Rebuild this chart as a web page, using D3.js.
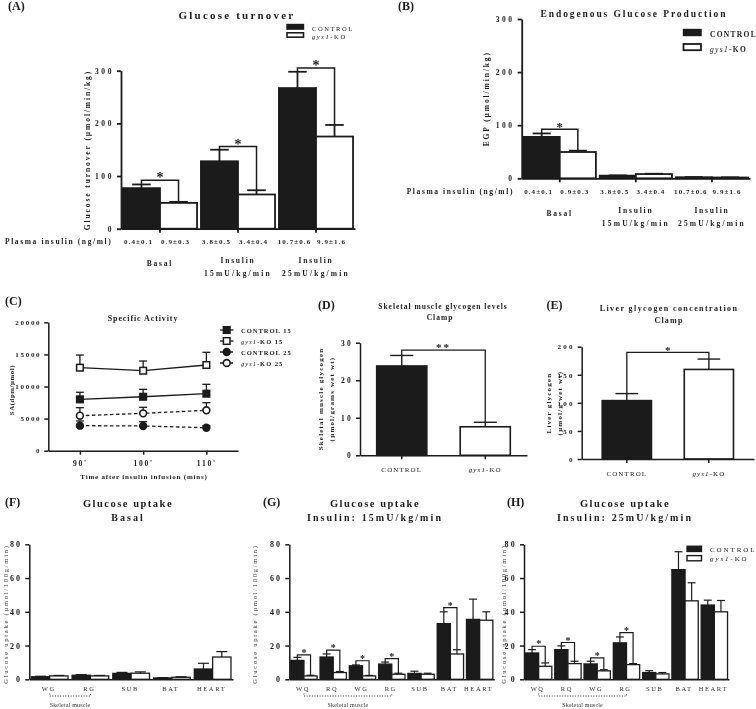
<!DOCTYPE html>
<html><head><meta charset="utf-8">
<script src="https://cdn.jsdelivr.net/npm/d3@7"></script>
<style>body{margin:0;background:#fff}svg{display:block;filter:grayscale(100%)}</style>
</head><body>
<svg id="chart" width="756" height="709"></svg>
<script>
// ================= DATA =================
// (A) Glucose turnover
const groupsA = ["Basal", "Insulin 15", "Insulin 25"];
const groupLabelsA = [["Basal"], ["Insulin", "15mU/kg/min"], ["Insulin", "25mU/kg/min"]];
const insulinControl = ["0.4±0.1", "3.8±0.5", "10.7±0.6"];
const insulinKO = ["0.9±0.3", "3.4±0.4", "9.9±1.6"];
const turnoverControl = [77, 128, 267];
const turnoverControlSem = [7, 22, 31];
const turnoverKO = [49, 65, 175];
const turnoverKOSem = [2, 8, 22];
const turnoverSig = [[0, 92], [1, 156], [2, 305]];
const ticksA = [0, 100, 200, 300];

// (B) Endogenous glucose production
const egpControl = [78, 5, 2];
const egpControlSem = [6.5, 0.5, 0.3];
const egpKO = [49.5, 8, 1.5];
const egpKOSem = [2.5, 0.6, 0.3];
const egpSig = [[0, 92.5]];
const ticksB = [0, 100, 200, 300];

// (C) Specific activity
const timesC = ["90'", "100'", "110'"];
const saControl15 = [8000, 8400, 8880];
const saControl15Sem = [1100, 1160, 1460];
const saKO15 = [12930, 12460, 13350];
const saKO15Sem = [1970, 1510, 1980];
const saControl25 = [3900, 3850, 3580];
const saControl25Sem = [730, 670, 300];
const saKO25 = [5450, 5820, 6290];
const saKO25Sem = [1250, 940, 1190];
const legendC = ["CONTROL 15", "gys1-KO 15", "CONTROL 25", "gys1-KO 25"];
const ticksC = [0, 5000, 10000, 15000, 20000];

// (D) Skeletal muscle glycogen, (E) Liver glycogen
const genotypes = ["CONTROL", "gys1-KO"];
const muscleGlycogen = [23.8, 7.6];
const muscleGlycogenSem = [2.8, 1.2];
const muscleSig = 28;
const ticksD = [0, 10, 20, 30];
const liverGlycogen = [104, 159.5];
const liverGlycogenSem = [12.5, 18.5];
const liverSig = 190;
const ticksE = [0, 50, 100, 150, 200];

// (F) Glucose uptake basal
const tissuesF = ["WG", "RG", "SUB", "BAT", "HEART"];
const uptakeBasalControl = [1.5, 2.4, 3.5, 0.8, 6.1];
const uptakeBasalControlSem = [0.3, 0.4, 0.6, 0.2, 3.4];
const uptakeBasalKO = [2.0, 2.0, 3.6, 1.2, 13.2];
const uptakeBasalKOSem = [0.3, 0.3, 0.8, 0.3, 3.2];

// (G) Glucose uptake insulin 15, (H) insulin 25
const tissuesGH = ["WQ", "RQ", "WG", "RG", "SUB", "BAT", "HEART"];
const uptake15Control = [11.2, 13.2, 8.0, 9.0, 3.5, 33, 35.5];
const uptake15ControlSem = [1.8, 1.8, 0.5, 1.2, 1.3, 7, 12];
const uptake15KO = [2.0, 4.0, 2.0, 3.0, 3.0, 15, 35];
const uptake15KOSem = [0.4, 0.6, 0.3, 0.6, 0.6, 2.5, 5];
const uptake15Sig = [[0, 14.5], [1, 17.3], [2, 11], [3, 12.3], [5, 42.5]];
const uptake25Control = [15.6, 17.6, 9.1, 21.6, 4.0, 65, 44];
const uptake25ControlSem = [2.0, 2.2, 1.6, 3.5, 1.1, 10.6, 2.9];
const uptake25KO = [7.7, 9.3, 5.0, 8.7, 3.2, 46.5, 40];
const uptake25KOSem = [2.0, 1.4, 0.7, 0.6, 0.8, 10.7, 6.7];
const uptake25Sig = [[0, 19.6], [1, 21.8], [2, 12.7], [3, 27.7]];
const ticksUptake = [0, 20, 40, 60, 80];

// ================= DRAWING =================
const svg = d3.select("#chart");
const INK = "#1b1b1b";
const SERIF = "'Liberation Serif', 'DejaVu Serif', serif";

function setLabel(t, s) {
  if (s.startsWith("gys1")) {
    t.append("tspan").attr("font-style", "italic").attr("font-weight", "normal").text("gys1");
    t.append("tspan").text(s.slice(4));
  } else t.text(s);
}
function label(x, y, s, o = {}) {
  const t = svg.append("text")
    .attr("x", x).attr("y", y)
    .attr("font-family", SERIF)
    .attr("font-size", o.size || 8)
    .attr("font-weight", o.weight || "bold")
    .attr("letter-spacing", o.ls ?? 1)
    .attr("text-anchor", o.anchor || "middle")
    .attr("fill", o.fill || INK);
  setLabel(t, s);
  return t;
}
function vlabel(cx, cy, s, o = {}) {
  const size = o.size || 8;
  const x = cx + size * 0.35;
  const t = label(x, cy, s, o);
  t.attr("transform", `rotate(-90 ${x} ${cy})`);
  return t;
}
function yAxis(y, x, ticks, o = {}) {
  const g = svg.append("g").attr("transform", `translate(${x},0)`)
    .call(d3.axisLeft(y).tickValues(ticks).tickSize(o.tick || 4).tickSizeOuter(0).tickPadding(o.pad || 3)
      .tickFormat(d3.format("d")));
  g.attr("font-family", SERIF).attr("font-size", o.size || 7.5).attr("font-weight", "bold");
  g.select(".domain").attr("stroke", INK).attr("stroke-width", o.sw || 1.6);
  g.selectAll(".tick line").attr("stroke", INK).attr("stroke-width", o.sw || 1.6);
  g.selectAll(".tick text").attr("fill", INK).attr("letter-spacing", o.ls ?? 2.5);
  return g;
}
function xAxis(x, y0, o = {}) {
  const g = svg.append("g").attr("transform", `translate(0,${y0})`)
    .call(d3.axisBottom(x).tickSize(o.tick ?? 4).tickSizeOuter(0).tickPadding(o.pad || 3)
      .tickFormat(o.fmt || (() => "")));
  g.attr("font-family", SERIF).attr("font-size", o.size || 7.5).attr("font-weight", "bold");
  g.select(".domain").attr("stroke", INK).attr("stroke-width", o.sw || 1.6);
  g.selectAll(".tick line").attr("stroke", INK).attr("stroke-width", o.sw || 1.6);
  g.selectAll(".tick text").attr("fill", INK).attr("letter-spacing", o.ls ?? 1.5);
  return g;
}
function bracket(xl, xr, yTop, yl, yr, star, o) {
  svg.append("path")
    .attr("d", `M${xl},${yl}V${yTop}H${xr}V${yr}`)
    .attr("fill", "none").attr("stroke", INK).attr("stroke-width", o.sw || 1.4);
  label((xl + xr) / 2, yTop - (o.gap || 4.5) + 0.5 * o.size, star, { size: o.size, ls: o.ls || 0 });
}
function errorBars(rows, cx, y, cap, sw) {
  const g = svg.append("g").attr("stroke", INK).attr("stroke-width", sw);
  g.selectAll("line.ev").data(rows).join("line").attr("class", "ev")
    .attr("x1", cx).attr("x2", cx).attr("y1", d => y(d.v)).attr("y2", d => y(d.v + d.s));
  g.selectAll("line.ec").data(rows).join("line").attr("class", "ec")
    .attr("x1", d => cx(d) - cap / 2).attr("x2", d => cx(d) + cap / 2)
    .attr("y1", d => y(d.v + d.s)).attr("y2", d => y(d.v + d.s));
}
function groupedBars(p) {
  const sub = d3.scaleBand().domain(genotypes).range([0, p.x.bandwidth()]);
  const rows = [];
  p.groups.forEach((gname, i) => {
    rows.push({ g: gname, i, k: genotypes[0], v: p.ctl[i], s: p.ctlSem[i] });
    rows.push({ g: gname, i, k: genotypes[1], v: p.ko[i], s: p.koSem[i] });
  });
  const cx = d => p.x(d.g) + sub(d.k) + sub.bandwidth() / 2;
  svg.append("g").selectAll("rect").data(rows).join("rect")
    .attr("x", d => p.x(d.g) + sub(d.k))
    .attr("y", d => p.y(d.v))
    .attr("width", sub.bandwidth())
    .attr("height", d => p.y(0) - p.y(d.v))
    .attr("fill", d => d.k === genotypes[0] ? INK : "#fff")
    .attr("stroke", INK).attr("stroke-width", p.sw);
  errorBars(rows, cx, p.y, sub.bandwidth() * p.capFrac, p.esw || p.sw);
  (p.sig || []).forEach(([i, h]) => {
    const a = rows[2 * i], b = rows[2 * i + 1];
    bracket(cx(a), cx(b), p.y(h), p.y(a.v + a.s), p.y(b.v + b.s), "*", p.star);
  });
  return { rows, cx };
}
function groupTexts(x, rowsRes, rowY, labY) {
  rowsRes.rows.forEach(d => {
    label(rowsRes.cx(d) - 3, rowY, (d.k === genotypes[0] ? insulinControl : insulinKO)[d.i], { size: 7, ls: 1.1 });
  });
  groupsA.forEach((gname, i) => {
    const c = x(gname) + x.bandwidth() / 2;
    const lines = groupLabelsA[i];
    if (lines.length === 1) label(c, labY + 3.5, lines[0], { size: 7.5, ls: 1.8 });
    else {
      label(c, labY, lines[0], { size: 7.5, ls: 1.8 });
      label(c, labY + 13.5, lines[1], { size: 7.5, ls: 2.2 });
    }
  });
}

// ---------- (A) ----------
label(8, 9.5, "(A)", { size: 12, anchor: "start", ls: 0 });
label(237, 18.5, "Glucose turnover", { size: 11, ls: 2.2 });
const yA = d3.scaleLinear().domain([0, 300]).range([228.7, 70.7]);
const xA = d3.scaleBand().domain(groupsA).range([121, 355]).paddingInner(0.05).paddingOuter(0.025);
const resA = groupedBars({ x: xA, y: yA, groups: groupsA, ctl: turnoverControl, ctlSem: turnoverControlSem,
  ko: turnoverKO, koSem: turnoverKOSem, sig: turnoverSig, sw: 1.8, capFrac: 0.5,
  star: { size: 14, gap: 5, sw: 1.5 } });
yAxis(yA, 121, ticksA, { sw: 1.8, size: 7.5, ls: 2.6 });
xAxis(xA, 228.7, { sw: 1.8 });
vlabel(87, 150, "Glucose turnover (µmol/min/kg)", { size: 7.5, ls: 1.9 });
label(5, 243.5, "Plasma insulin (ng/ml)", { size: 7.5, ls: 1.6, anchor: "start" });
groupTexts(xA, resA, 243.5, 262.5);
// legend A
svg.append("rect").attr("x", 287).attr("y", 24.5).attr("width", 16.5).attr("height", 4.6).attr("fill", INK).attr("stroke", INK).attr("stroke-width", 1.4);
svg.append("rect").attr("x", 287).attr("y", 32.8).attr("width", 16.5).attr("height", 4.4).attr("fill", "#fff").attr("stroke", INK).attr("stroke-width", 1.6);
label(312, 30.5, genotypes[0], { size: 6.5, weight: "normal", ls: 1.6, anchor: "start" });
label(312, 39.3, genotypes[1], { size: 6.5, weight: "normal", ls: 1.6, anchor: "start" });

// ---------- (B) ----------
label(398, 9.5, "(B)", { size: 12, anchor: "start", ls: 0 });
label(634, 16.5, "Endogenous Glucose Production", { size: 9.5, ls: 1.9 });
const yB = d3.scaleLinear().domain([0, 300]).range([178.3, 19]);
const xB = d3.scaleBand().domain(groupsA).range([521.7, 750]).paddingInner(0.05).paddingOuter(0.025);
const resB = groupedBars({ x: xB, y: yB, groups: groupsA, ctl: egpControl, ctlSem: egpControlSem,
  ko: egpKO, koSem: egpKOSem, sig: egpSig, sw: 1.8, capFrac: 0.5,
  star: { size: 13, gap: 5, sw: 1.5 } });
yAxis(yB, 521.7, ticksB, { sw: 1.8, size: 7.5, ls: 2.6 });
xAxis(xB, 178.3, { sw: 1.8 });
vlabel(486.7, 98.7, "EGP (µmol/min/kg)", { size: 7.5, ls: 1.9 });
label(406.7, 193.5, "Plasma insulin (ng/ml)", { size: 7.5, ls: 1.6, anchor: "start" });
groupTexts(xB, resB, 193.5, 212.5);
svg.append("rect").attr("x", 683.5).attr("y", 29.5).attr("width", 17.5).attr("height", 6).attr("fill", INK).attr("stroke", INK).attr("stroke-width", 1.4);
svg.append("rect").attr("x", 683.5).attr("y", 44).attr("width", 17.5).attr("height", 6.2).attr("fill", "#fff").attr("stroke", INK).attr("stroke-width", 1.8);
label(710, 37, genotypes[0], { size: 7.5, ls: 1.3, anchor: "start" });
label(710, 51.5, genotypes[1], { size: 7.5, ls: 1.3, anchor: "start" });

// ---------- (C) ----------
label(5, 305, "(C)", { size: 12, anchor: "start", ls: 0 });
label(143, 320.5, "Specific Activity", { size: 8, ls: 0.9 });
const yC = d3.scaleLinear().domain([0, 20000]).range([450.7, 322.3]);
const xC = d3.scalePoint().domain(timesC).range([48.3, 238]).padding(0.5);
const seriesC = [
  { name: legendC[0], v: saControl15, s: saControl15Sem, shape: "square", fill: INK, dash: null },
  { name: legendC[1], v: saKO15, s: saKO15Sem, shape: "square", fill: "#fff", dash: null },
  { name: legendC[2], v: saControl25, s: saControl25Sem, shape: "circle", fill: INK, dash: "3.5,2.5" },
  { name: legendC[3], v: saKO25, s: saKO25Sem, shape: "circle", fill: "#fff", dash: "3.5,2.5" }
];
yAxis(yC, 48.3, ticksC, { sw: 1.5, size: 7, ls: 1.7 });
xAxis(xC, 450.7, { sw: 1.5, tick: 4, pad: 6, size: 7.5, ls: 1.8, fmt: d => d });
vlabel(11.5, 390, "SA(dpm/µmol)", { size: 6.8, ls: 0.6 });
label(144, 478.5, "Time after insulin infusion (mins)", { size: 7, ls: 0.8 });
const lineC = d3.line().x((d, i) => xC(timesC[i])).y(d => yC(d));
function marker(g, x, y, shape, fill) {
  if (shape === "square") g.append("rect").attr("x", x - 3.3).attr("y", y - 3.3).attr("width", 6.6).attr("height", 6.6)
    .attr("fill", fill).attr("stroke", INK).attr("stroke-width", 1.5);
  else g.append("circle").attr("cx", x).attr("cy", y).attr("r", 3.4).attr("fill", fill).attr("stroke", INK).attr("stroke-width", 1.6);
}
seriesC.forEach(sr => {
  svg.append("path").attr("d", lineC(sr.v)).attr("fill", "none").attr("stroke", INK)
    .attr("stroke-width", 1.3).attr("stroke-dasharray", sr.dash);
  const rows = sr.v.map((v, i) => ({ t: timesC[i], v, s: sr.s[i] }));
  errorBars(rows, d => xC(d.t), yC, 8, 1.3);
  const g = svg.append("g");
  rows.forEach(d => marker(g, xC(d.t), yC(d.v), sr.shape, sr.fill));
});
const legRowsC = [330, 341, 352, 363];
seriesC.forEach((sr, i) => {
  const y = legRowsC[i];
  svg.append("line").attr("x1", 220).attr("x2", 233.5).attr("y1", y).attr("y2", y)
    .attr("stroke", INK).attr("stroke-width", 1.3).attr("stroke-dasharray", sr.dash ? "3,2" : null);
  marker(svg, 226.7, y, sr.shape, sr.fill);
  label(241, y + 2.5, sr.name, { size: 6.5, ls: 1, anchor: "start" });
});

// ---------- (D) & (E) ----------
function twoBar(p) {
  const rows = genotypes.map((k, i) => ({ k, v: p.v[i], s: p.s[i] }));
  const cx = d => p.x(d.k) + p.x.bandwidth() / 2;
  svg.append("g").selectAll("rect").data(rows).join("rect")
    .attr("x", d => p.x(d.k)).attr("y", d => p.y(d.v))
    .attr("width", p.x.bandwidth()).attr("height", d => p.y(0) - p.y(d.v))
    .attr("fill", d => d.k === genotypes[0] ? INK : "#fff")
    .attr("stroke", INK).attr("stroke-width", 1.6);
  errorBars(rows, cx, p.y, p.x.bandwidth() * 0.46, 1.4);
  bracket(cx(rows[0]), cx(rows[1]), p.y(p.sig), p.y(rows[0].v + rows[0].s), p.y(rows[1].v + rows[1].s), p.star, p.starO);
  rows.forEach(d => label(cx(d), p.labY, d.k, { size: 7, weight: "normal", ls: 1.1 }));
}
label(318, 309, "(D)", { size: 12, anchor: "start", ls: 0 });
label(443, 308.5, "Skeletal muscle glycogen levels", { size: 7.5, ls: 1.0 });
label(440, 320, "Clamp", { size: 7.5, ls: 1.0 });
const yD = d3.scaleLinear().domain([0, 30]).range([455.3, 342.7]);
const xD = d3.scaleBand().domain(genotypes).range([360, 527]).paddingInner(0.4).paddingOuter(0.2);
twoBar({ x: xD, y: yD, v: muscleGlycogen, s: muscleGlycogenSem, sig: muscleSig, star: "**",
  starO: { size: 11, gap: 4.5, ls: 2, sw: 1.3 }, labY: 472 });
yAxis(yD, 360, ticksD, { sw: 1.5, size: 7.5, ls: 2.2 });
xAxis(xD, 455.3, { sw: 1.5 });
vlabel(321, 399, "Skeletal muscle glycogen", { size: 7, ls: 1.2 });
vlabel(331.5, 399, "(µmol/grams wet wt)", { size: 7, ls: 1.2 });

label(546.5, 308.5, "(E)", { size: 12, anchor: "start", ls: 0 });
label(669, 311, "Liver glycogen concentration", { size: 8, ls: 1.4 });
label(669, 322.5, "Clamp", { size: 8, ls: 1.2 });
const yE = d3.scaleLinear().domain([0, 200]).range([459, 346.7]);
const xE = d3.scaleBand().domain(genotypes).range([581.7, 754]).paddingInner(0.4).paddingOuter(0.25);
twoBar({ x: xE, y: yE, v: liverGlycogen, s: liverGlycogenSem, sig: liverSig, star: "*",
  starO: { size: 11, gap: 3.5, sw: 1.3 }, labY: 476 });
yAxis(yE, 581.7, ticksE, { sw: 1.5, size: 7, ls: 2.2 });
xAxis(xE, 459, { sw: 1.5 });
vlabel(548.3, 403, "Liver glycogen", { size: 7, ls: 1.2 });
vlabel(560, 403, "(µmol/g wet wt)", { size: 7, ls: 1.2 });

// ---------- (F), (G), (H) ----------
const yU = d3.scaleLinear().domain([0, 80]).range([679.3, 544.3]);
function uptakePanel(p) {
  label(p.lx, 505.5, p.tag, { size: 12, anchor: "start", ls: 0 });
  label(p.tx, 506.5, "Glucose uptake", { size: 10.5, ls: 1.5 });
  label(p.tx, 520.5, p.sub, { size: 10, ls: p.subLs });
  const x = d3.scaleBand().domain(p.tissues).range([p.ax, p.ax + p.len]).paddingInner(0.1).paddingOuter(0.05);
  groupedBars({ x, y: yU, groups: p.tissues, ctl: p.ctl, ctlSem: p.ctlSem, ko: p.ko, koSem: p.koSem,
    sig: p.sig, sw: 1.3, esw: 1.2, capFrac: 0.6, star: { size: 10, gap: 4, sw: 1.2 } });
  yAxis(yU, p.ax, ticksUptake, { sw: 1.5, size: 8, ls: 2.2 });
  xAxis(x, 679.3, { sw: 1.5, tick: 0 });
  vlabel(p.ylx, 614, "Glucose uptake (µmol/100g/min)", { size: 6.5, weight: "normal", ls: 1.75, fill: "#333" });
  p.tissues.forEach(t => label(x(t) + x.bandwidth() / 2 - 1, 690.5, t, { size: 6.5, weight: "normal", ls: 1.6, fill: "#333" }));
  const m0 = x(p.muscle[0]) + x.bandwidth() / 2, m1 = x(p.muscle[1]) + x.bandwidth() / 2;
  svg.append("path").attr("d", `M${m0},693.5V696H${m1}V693.5`).attr("fill", "none")
    .attr("stroke", "#333").attr("stroke-width", 1).attr("stroke-dasharray", "1,1.6");
  label((m0 + m1) / 2, 707, "Skeletal muscle", { size: 6, weight: "normal", ls: 0.2, fill: "#333" });
}
uptakePanel({ tag: "(F)", lx: 5, tx: 128, sub: "Basal", subLs: 2, ax: 29.3, len: 203.7, ylx: 5.5,
  tissues: tissuesF, ctl: uptakeBasalControl, ctlSem: uptakeBasalControlSem, ko: uptakeBasalKO, koSem: uptakeBasalKOSem,
  sig: [], muscle: ["WG", "RG"] });
uptakePanel({ tag: "(G)", lx: 263, tx: 375, sub: "Insulin: 15mU/kg/min", subLs: 2.1, ax: 289.3, len: 205, ylx: 255,
  tissues: tissuesGH, ctl: uptake15Control, ctlSem: uptake15ControlSem, ko: uptake15KO, koSem: uptake15KOSem,
  sig: uptake15Sig, muscle: ["WQ", "RG"] });
uptakePanel({ tag: "(H)", lx: 507, tx: 625, sub: "Insulin: 25mU/kg/min", subLs: 2.1, ax: 524, len: 205, ylx: 503.5,
  tissues: tissuesGH, ctl: uptake25Control, ctlSem: uptake25ControlSem, ko: uptake25KO, koSem: uptake25KOSem,
  sig: uptake25Sig, muscle: ["WQ", "RG"] });
svg.append("rect").attr("x", 687).attr("y", 546.2).attr("width", 14.5).attr("height", 5.3).attr("fill", INK).attr("stroke", INK).attr("stroke-width", 1.3);
svg.append("rect").attr("x", 687).attr("y", 555.6).attr("width", 14.5).attr("height", 5.2).attr("fill", "#fff").attr("stroke", INK).attr("stroke-width", 1.4);
label(710, 551.8, genotypes[0], { size: 7, weight: "normal", ls: 1.9, anchor: "start" });
label(710, 561, genotypes[1], { size: 7, weight: "normal", ls: 1.9, anchor: "start" });
</script>
</body></html>
